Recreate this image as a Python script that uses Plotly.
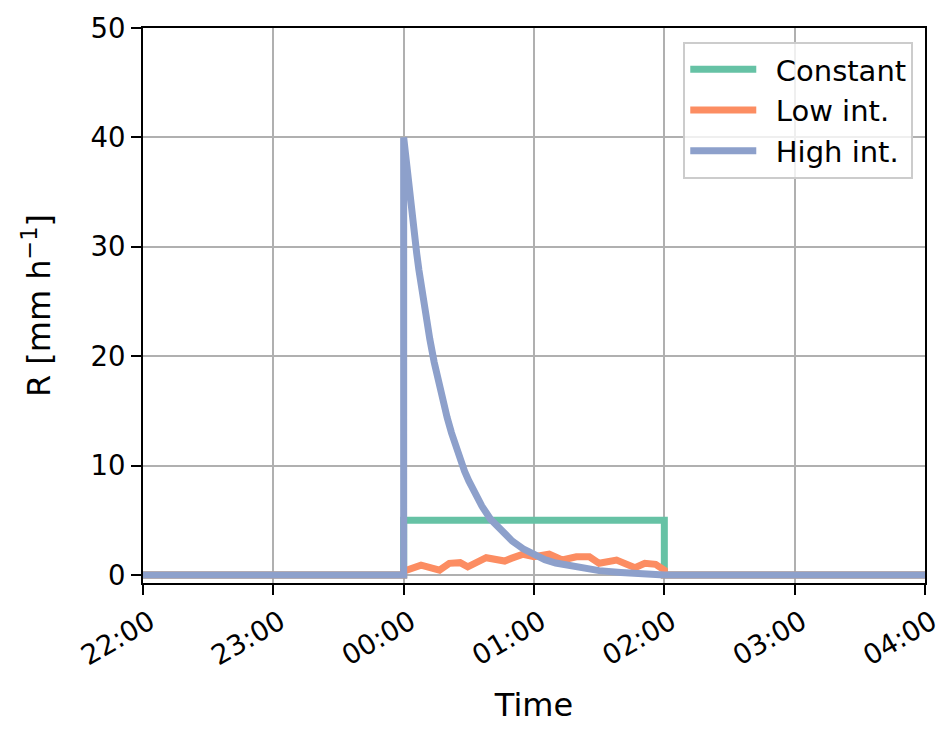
import datetime as dt
import plotly.graph_objects as go

# ---- data ----
start = dt.datetime(2020, 1, 1, 22, 0)
t0 = dt.datetime(2020, 1, 2, 0, 0)
end = dt.datetime(2020, 1, 2, 4, 0)

# Constant: minutes after 00:00 and rate
const_min = [-120, 0, 0, 120, 120, 240]
const_val = [0, 0, 5, 5, 0, 0]

# Low intensity: minutes after 00:00 and rate
low_min = [-120, 0, 0, 8, 16.5, 21, 26, 29.5, 38, 46.5, 49.5, 55, 60, 67, 73,
           79.5, 85.5, 90, 98, 106.5, 111, 116, 120, 120, 240]
low_val = [0, 0, 0.35, 0.9, 0.45, 1.07, 1.13, 0.75, 1.58, 1.28, 1.52, 1.9, 1.67,
           1.9, 1.37, 1.67, 1.67, 1.07, 1.37, 0.67, 1.07, 0.98, 0.45, 0, 0]

# High intensity: minutes after 00:00 and rate
high_min = [-120, 0, 0, 1, 2, 3, 4, 5, 6, 7, 8, 9, 10, 12, 14, 16, 18, 20, 22, 24,
            26, 28, 30, 33, 36, 40, 45, 50, 55, 60, 65, 70, 80, 90, 100, 110, 120,
            120, 240]
high_val = [0, 0, 40, 38.0, 36.1, 34.3, 32.6, 31.0, 29.4, 27.9, 26.5, 25.2, 24.0,
            21.6, 19.5, 17.6, 15.9, 14.4, 13.0, 11.7, 10.6, 9.5, 8.6, 7.3, 6.3, 5.1,
            4.0, 3.1, 2.4, 1.85, 1.4, 1.1, 0.67, 0.4, 0.24, 0.14, 0.09, 0, 0]

series_names = ["Constant", "Low int.", "High int."]
colors = ["#66c2a5", "#fc8d62", "#8da0cb"]

x_ticks_min = [-120, -60, 0, 60, 120, 180, 240]
y_ticks = [0, 10, 20, 30, 40, 50]


def to_time(mins):
    return [t0 + dt.timedelta(minutes=m) for m in mins]


FONT = "DejaVu Sans, Liberation Sans, sans-serif"
FS_TICK = 27.5
FS_TITLE = 32
FS_LEG = 29

fig = go.Figure()
for name, mins, vals, col, grp in zip(series_names,
                                      [const_min, low_min, high_min],
                                      [const_val, low_val, high_val],
                                      colors, ["a", "b", "c"]):
    fig.add_trace(go.Scatter(x=to_time(mins), y=vals, mode="lines",
                             name="\u2002" + name,
                             line=dict(color=col, width=7),
                             legendgroup=grp))

fig.update_layout(
    width=944, height=730,
    margin=dict(l=135, r=27, t=20, b=155),
    paper_bgcolor="white", plot_bgcolor="white",
    font=dict(family=FONT, size=FS_TICK, color="black"),
    showlegend=True,
    legend=dict(x=0.985, y=0.975, xanchor="right", yanchor="top",
                bgcolor="rgba(255,255,255,0.8)", bordercolor="#cccccc",
                borderwidth=2, font=dict(size=FS_LEG, family=FONT),
                tracegroupgap=4, itemwidth=66, traceorder="normal"),
)
fig.update_xaxes(
    type="date", range=[start, end],
    tickvals=to_time(x_ticks_min), tickformat="%H:%M", tickangle=-30,
    ticklabelshift=7,
    showgrid=True, gridcolor="#b0b0b0", gridwidth=2.2,
    showline=True, linecolor="black", linewidth=2.2, mirror=True,
    ticks="outside", ticklen=10, tickwidth=2.2, tickcolor="black",
    tickfont=dict(size=FS_TICK, family=FONT),
    title=dict(text="Time", font=dict(size=FS_TITLE, family=FONT), standoff=24),
    zeroline=False, automargin=False,
)
fig.update_yaxes(
    range=[-0.73, 50], tickvals=y_ticks,
    showgrid=True, gridcolor="#b0b0b0", gridwidth=2.2,
    showline=True, linecolor="black", linewidth=2.2, mirror=True,
    ticks="outside", ticklen=10, tickwidth=2.2, tickcolor="black",
    tickfont=dict(size=FS_TICK, family=FONT),
    title=dict(text="R [mm h<sup>−1</sup>]", font=dict(size=FS_TITLE, family=FONT), standoff=30),
    zeroline=False, automargin=False,
)

fig.write_html("out.html")
